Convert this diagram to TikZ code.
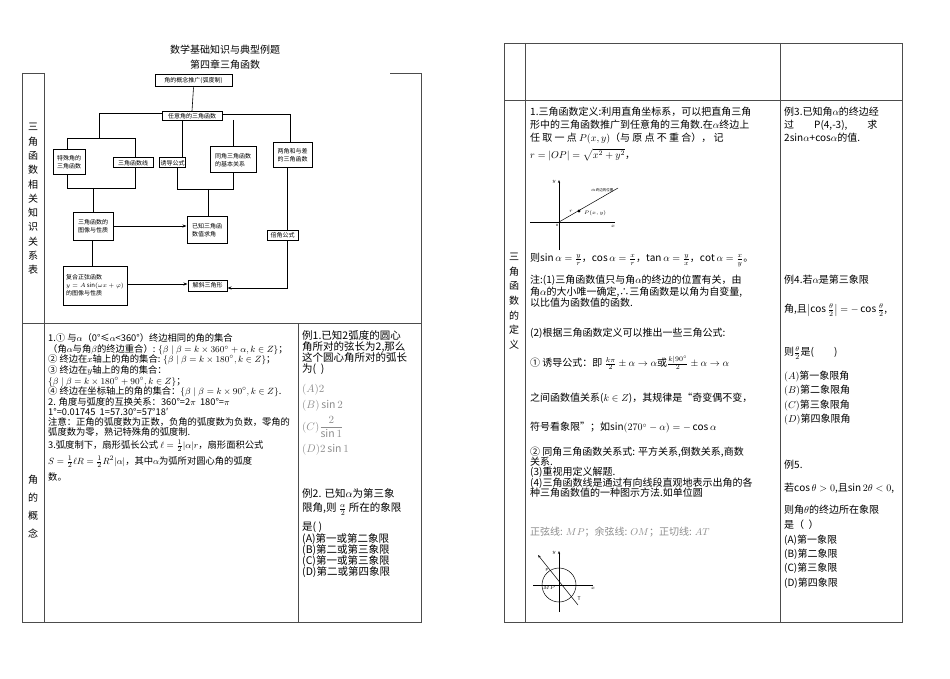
\documentclass[tikz,border=0pt]{standalone}
\usepackage{fontspec}
\setmainfont{Noto Sans CJK SC}
\usetikzlibrary{arrows.meta}
\begin{document}
\begin{tikzpicture}[x=1pt,y=-1pt,
  tl/.style={line width=0.6pt,draw=black!70},
  fbox/.style={draw,line width=1pt,inner sep=1pt,font=\fontsize{6}{8}\selectfont,align=left},
  fl/.style={line width=0.6pt},
  arr/.style={line width=0.6pt,-{Stealth[length=4pt,width=3pt]}},
  txt/.style={anchor=west,inner sep=0,font=\fontsize{9.3}{10}\selectfont},
  etx/.style={anchor=west,inner sep=0,font=\fontsize{10.5}{12}\selectfont},
  rtx/.style={anchor=west,inner sep=0,font=\fontsize{10}{12}\selectfont},
  gry/.style={text=black!45},
  vl/.style={inner sep=0,font=\fontsize{10}{12}\selectfont}]
\useasboundingbox (0,0) rectangle (950,679);
% ---------- left table
\draw[tl] (22,73)--(44,73) (390,73)--(421,73);
\draw[tl] (22,73)--(22,622)--(421,622)--(421,73);
\draw[tl] (44,73)--(44,622);
\draw[tl] (22,323)--(421,323);
\draw[tl] (298,323)--(298,622);
\node[inner sep=0,font=\fontsize{10}{12}\selectfont] (t1) at (225,50) {数学基础知识与典型例题};
\node[inner sep=0,font=\fontsize{10}{12}\selectfont] (t2) at (225,65) {第四章三角函数};
\foreach \c [count=\i] in {三,角,函,数,相,关,知,识,关,系,表}
  \node[vl] at (33,{127+14.3*(\i-1)}) {\c};
\foreach \c [count=\i] in {角,的,概,念}
  \node[vl] at (33,{480+17.7*(\i-1)}) {\c};
% flowchart
\node[fbox,minimum width=77,minimum height=12] (a) at (193.5,81) {角的概念推广(弧度制)};
\node[fbox,minimum width=60,minimum height=9] (b) at (192,116) {任意角的三角函数};
\node[fbox,minimum width=32,minimum height=25] (c) at (69,162.5) {特殊角的\\三角函数};
\node[fbox,minimum width=40,minimum height=10] (d) at (133,163) {三角函数线};
\node[fbox,minimum width=25,minimum height=10] (e) at (172.5,163) {诱导公式};
\node[fbox,minimum width=46,minimum height=26] (f) at (233,160) {同角三角函数\\的基本关系};
\node[fbox,minimum width=39,minimum height=25] (g) at (292.5,155.5) {两角和与差\\的三角函数};
\node[fbox,minimum width=40,minimum height=27] (h) at (93,226.5) {三角函数的\\图像与性质};
\node[fbox,minimum width=40,minimum height=26] (i) at (207,230) {已知三角函\\数值求角};
\node[fbox,minimum width=31,minimum height=10] (j) at (282.5,235) {倍角公式};
\node[fbox,minimum width=64,minimum height=39] (k) at (95,285.5) {复合正弦函数\\$y=A\sin(\omega x+\varphi)$\\的图像与性质};
\node[fbox,minimum width=39,minimum height=11] (l) at (207.5,285.5) {解斜三角形};
\draw[fl] (a.south)--(b.north);
\draw[fl] (b.west|-0,113)--(99,113)--(99,138);
\draw[fl] (67,138)--(135,138);
\draw[fl] (67,138)--(67,150);
\draw[fl] (135,138)--(d.north-|135,0);
\draw[fl] (b.east|-0,114)--(290,114)--(g.north-|290,0);
\draw[fl] (182,120)--(182,158);
\draw[fl] (233,120)--(233,147);
\draw[fl] (67,175)--(67,188)--(135,188)--(135,168);
\draw[fl] (93,188)--(h.north);
\draw[fl] (177,168)--(177,189)--(233,189)--(233,173);
\draw[fl] (208,189)--(i.north-|208,0);
\draw[arr] (h.east|-0,226)--(i.west|-0,226);
\draw[fl] (92,240)--(92,266);
\draw[arr] (k.east|-0,284)--(l.west|-0,284);
\draw[fl] (287,168)--(287,230);
\draw[arr] (287,240)--(287,288)--(l.east|-0,288);
% row 2 text
\node[txt] at (48,338) {1.① 与$\alpha$（0°≤$\alpha$<360°）终边相同的角的集合};
\node[txt] at (48,350) {（角$\alpha$与角$\beta$的终边重合）: $\left\{\beta\mid\beta=k\times360^\circ+\alpha,k\in Z\right\}$；};
\node[txt] at (48,360) {② 终边在$x$轴上的角的集合: $\left\{\beta\mid\beta=k\times180^\circ,k\in Z\right\}$；};
\node[txt] at (48,370) {③ 终边在$y$轴上的角的集合：};
\node[txt] at (48,382) {$\left\{\beta\mid\beta=k\times180^\circ+90^\circ,k\in Z\right\}$；};
\node[txt] at (48,392) {④ 终边在坐标轴上的角的集合：$\left\{\beta\mid\beta=k\times90^\circ,k\in Z\right\}$.};
\node[txt] at (48,402) {2. 角度与弧度的互换关系：360°=2$\pi$\ \ 180°=$\pi$};
\node[txt] at (48,412) {1°=0.01745\ \ 1=57.30°=57°18′};
\node[txt] at (48,422) {注意：正角的弧度数为正数，负角的弧度数为负数，零角的};
\node[txt] at (48,432) {弧度数为零，熟记特殊角的弧度制.};
\node[txt] at (48,446) {3.弧度制下，扇形弧长公式 $\ell=\frac{1}{2}|\alpha|r$，扇形面积公式};
\node[txt] at (48,462) {$S=\frac{1}{2}\ell R=\frac{1}{2}R^2|\alpha|$，其中$\alpha$为弧所对圆心角的弧度};
\node[txt] at (48,477) {数。};
\node[etx] at (302,335) {例1.已知2弧度的圆心};
\node[etx] at (302,347) {角所对的弦长为2,那么};
\node[etx] at (302,358) {这个圆心角所对的弧长};
\node[etx] at (302,369) {为(\ \ )};
\node[etx,gry] at (302,390) {$(A)2$};
\node[etx,gry] at (302,406) {$(B)\sin 2$};
\node[etx,gry] at (302,427) {$(C)\displaystyle\frac{2}{\sin 1}$};
\node[etx,gry] at (302,450) {$(D)2\sin 1$};
\node[etx] at (302,493) {例2. 已知$\alpha$为第三象};
\node[etx] at (302,509) {限角,则 $\frac{\alpha}{2}$ 所在的象限};
\node[etx] at (302,527) {是(\ )};
\node[etx] at (302,539) {(A)第一或第二象限};
\node[etx] at (302,550) {(B)第二或第三象限};
\node[etx] at (302,561) {(C)第一或第三象限};
\node[etx] at (302,572) {(D)第二或第四象限};
% ---------- right table
\draw[tl] (504,43) rectangle (902,622);
\draw[tl] (525,43)--(525,622) (780,43)--(780,622) (504,100)--(902,100);
\foreach \c [count=\i] in {三,角,函,数,的,定,义}
  \node[vl] at (514,{257+14.6*(\i-1)}) {\c};
\node[rtx] at (530,112) {1.三角函数定义:利用直角坐标系，可以把直角三角};
\node[rtx] at (530,125) {形中的三角函数推广到任意角的三角数.在$\alpha$终边上};
\node[rtx] at (530,138) {任\ 取\ 一\ 点\ $P(x,y)$（与\ 原\ 点\ 不\ 重\ 合），\ 记};
\node[rtx] at (530,155) {$r=|OP|=\sqrt{x^2+y^2}$，};
% small graph
\coordinate (O1) at (559,222);
\draw[line width=0.5pt,-{Stealth[length=3pt]}] (559,250)--(559,180);
\draw[line width=1pt] (530,222)--(615,222);
\draw[line width=0.5pt] (O1)--(618,188);
\fill (579,211) circle (1.6);
\node[inner sep=0,font=\fontsize{5}{6}\selectfont] at (554,182) {$y$};
\node[inner sep=0,font=\fontsize{5}{6}\selectfont] at (613,226) {$x$};
\node[inner sep=0,font=\fontsize{4}{5}\selectfont] at (557,225) {o};
\node[inner sep=0,font=\fontsize{5}{6}\selectfont] at (571,211) {$r$};
\node[inner sep=0,font=\fontsize{5}{6}\selectfont,anchor=west] at (584,213) {$P(x,y)$};
\node[inner sep=0,font=\fontsize{3.5}{4}\selectfont,anchor=west] at (591,190) {$\alpha$终边的位置};
\node[rtx] at (530,260) {则$\sin\alpha=\frac{y}{r}$，$\cos\alpha=\frac{x}{r}$，$\tan\alpha=\frac{y}{x}$，$\cot\alpha=\frac{x}{y}$。};
\node[rtx] at (530,280) {注:(1)三角函数值只与角$\alpha$的终边的位置有关，由};
\node[rtx] at (530,292) {角$\alpha$的大小唯一确定,∴三角函数是以角为自变量,};
\node[rtx] at (530,303) {以比值为函数值的函数.};
\node[rtx] at (530,333) {(2)根据三角函数定义可以推出一些三角公式:};
\node[rtx] at (530,363) {① 诱导公式：即 $\frac{k\pi}{2}\pm\alpha\to\alpha$或$\frac{k|90^\circ}{2}\pm\alpha\to\alpha$};
\node[rtx] at (530,398) {之间函数值关系($k\in Z$)，其规律是“奇变偶不变，};
\node[rtx] at (530,428) {符号看象限”；如$\sin(270^\circ-\alpha)=-\cos\alpha$};
\node[rtx] at (530,452) {② 同角三角函数关系式: 平方关系,倒数关系,商数};
\node[rtx] at (530,462) {关系.};
\node[rtx] at (530,472) {(3)重视用定义解题.};
\node[rtx] at (530,483) {(4)三角函数线是通过有向线段直观地表示出角的各};
\node[rtx] at (530,493) {种三角函数值的一种图示方法.如单位圆};
\node[rtx,gry] at (530,532) {正弦线: $MP$；余弦线: $OM$；正切线: $AT$};
% unit circle
\draw[line width=0.5pt] (559,585) circle (17);
\draw[line width=1pt] (533,585)--(593,585);
\draw[line width=0.5pt,-{Stealth[length=3pt]}] (559,612)--(559,551);
\draw[line width=0.5pt,-{Stealth[length=3pt]}] (578,605)--(538,555);
\node[inner sep=0,font=\fontsize{5}{6}\selectfont] at (554,553) {$y$};
\node[inner sep=0,font=\fontsize{5}{6}\selectfont] at (593,588) {$x$};
\node[inner sep=0,font=\fontsize{4}{5}\selectfont] at (549,588) {$MP$};
\node[inner sep=0,font=\fontsize{5}{6}\selectfont] at (579,599) {T};
\node[inner sep=0,font=\fontsize{4}{5}\selectfont] at (547,570) {P};
% right examples
\node[rtx] at (784,112) {例3.已知角$\alpha$的终边经};
\node[rtx] at (784,125) {过\qquad P(4,-3),\qquad 求};
\node[rtx] at (784,138) {2sin$\alpha$+cos$\alpha$的值.};
\node[rtx] at (784,280) {例4.若$\alpha$是第三象限};
\node[rtx] at (784,310) {角,且$\left|\cos\frac{\theta}{2}\right|=-\cos\frac{\theta}{2}$,};
\node[rtx] at (784,353) {则$\frac{\theta}{2}$是(\qquad)};
\node[rtx] at (784,377) {$(A)$第一象限角};
\node[rtx] at (784,391) {$(B)$第二象限角};
\node[rtx] at (784,406) {$(C)$第三象限角};
\node[rtx] at (784,420) {$(D)$第四象限角};
\node[rtx] at (784,465) {例5.};
\node[rtx] at (784,488) {若$\cos\theta>0$,且$\sin2\theta<0$,};
\node[rtx] at (784,510) {则角$\theta$的终边所在象限};
\node[rtx] at (784,525) {是（\ \ ）};
\node[rtx] at (784,540) {(A)第一象限};
\node[rtx] at (784,554) {(B)第二象限};
\node[rtx] at (784,568) {(C)第三象限};
\node[rtx] at (784,583) {(D)第四象限};
\end{tikzpicture}
\end{document}
